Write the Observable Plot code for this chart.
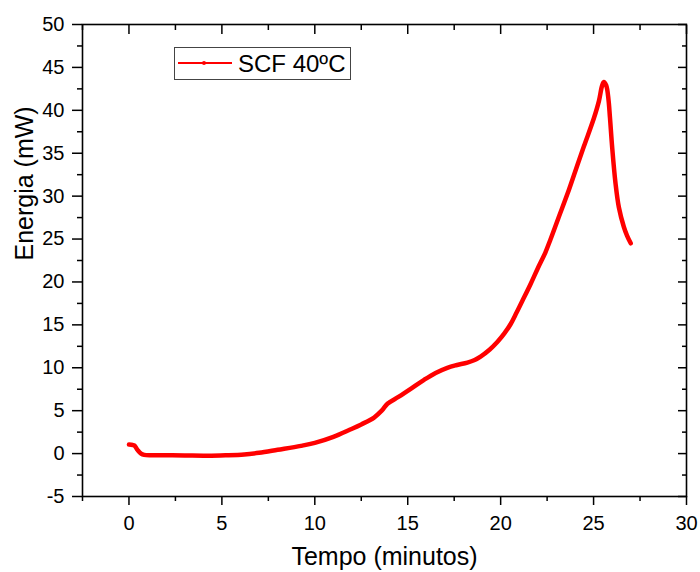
<!DOCTYPE html>
<html>
<head>
<meta charset="utf-8">
<script src="https://cdn.jsdelivr.net/npm/d3@7"></script>
<script src="https://cdn.jsdelivr.net/npm/@observablehq/plot@0.6"></script>
<style>
  html, body { margin: 0; padding: 0; background: #fff; }
  #wrap { position: relative; width: 700px; height: 572px; font-family: "Liberation Sans", Arial, sans-serif; }
  #legend { position: absolute; left: 174px; top: 47px; }
</style>
</head>
<body>
<div id="wrap"></div>
<script>
const seriesName = "SCF 40ºC";
const xLabel = "Tempo (minutos)";
const yLabel = "Energia (mW)";
const tempo = [0, 0.2, 0.3, 0.47, 0.65, 0.82, 1.2, 2.08, 3.0, 4.23, 5.2, 6.2, 7.0, 8.0, 9.25, 10.0, 11.0, 11.9, 12.5, 13.19, 13.6, 13.91, 14.5, 15.2, 15.88, 16.5, 17.13, 17.6, 18.21, 18.6, 18.92, 19.4, 19.82, 20.2, 20.54, 20.85, 21.17, 21.6, 22.0, 22.4, 22.69, 23.1, 23.6, 24.03, 24.48, 25.02, 25.29, 25.45, 25.55, 25.68, 25.8, 25.88, 26.0, 26.18, 26.36, 26.63, 26.8, 27.0];
const energia = [1.05, 1.0, 0.93, 0.4, 0.0, -0.15, -0.2, -0.2, -0.22, -0.25, -0.2, -0.1, 0.1, 0.45, 0.9, 1.25, 1.95, 2.8, 3.4, 4.2, 5.0, 5.8, 6.6, 7.6, 8.6, 9.4, 10.0, 10.3, 10.6, 10.9, 11.3, 12.1, 13.0, 14.0, 15.1, 16.4, 17.8, 19.7, 21.6, 23.4, 25.0, 27.4, 30.3, 33.0, 35.8, 39.1, 41.1, 42.8, 43.3, 42.9, 41.3, 39.2, 35.7, 31.5, 28.7, 26.4, 25.4, 24.5];
const xMajor = [0, 5, 10, 15, 20, 25, 30];
const xMinor = [-2.5, 2.5, 7.5, 12.5, 17.5, 22.5, 27.5];
const yMajor = [-5, 0, 5, 10, 15, 20, 25, 30, 35, 40, 45, 50];
const yMinor = [-2.5, 2.5, 7.5, 12.5, 17.5, 22.5, 27.5, 32.5, 37.5, 42.5, 47.5];

const data = tempo.map((t, i) => ({t, e: energia[i]}));
const blank = () => "";
const fmt = d => String(d);

const chart = Plot.plot({
  width: 700,
  height: 572,
  marginLeft: 82,
  marginRight: 14,
  marginTop: 24,
  marginBottom: 76,
  style: {fontFamily: "'Liberation Sans', Arial, sans-serif", fontSize: "20px", background: "#fff", color: "#000"},
  x: {domain: [-2.5, 30]},
  y: {domain: [-5, 50]},
  marks: [
    Plot.frame({stroke: "#000", strokeWidth: 1.6}),
    Plot.axisX({anchor: "bottom", ticks: xMajor, tickSize: 9, tickPadding: 10, fontSize: 20, tickFormat: fmt, label: null, strokeWidth: 1.5}),
    Plot.axisX({anchor: "bottom", ticks: xMinor, tickSize: 5, tickFormat: blank, label: null, strokeWidth: 1.5}),
    Plot.axisX({anchor: "top", ticks: xMajor, tickSize: -9, tickFormat: blank, label: null, strokeWidth: 1.5}),
    Plot.axisX({anchor: "top", ticks: xMinor, tickSize: -5, tickFormat: blank, label: null, strokeWidth: 1.5}),
    Plot.axisY({anchor: "left", ticks: yMajor, tickSize: 10, tickPadding: 8, fontSize: 20, tickFormat: fmt, label: null, strokeWidth: 1.5}),
    Plot.axisY({anchor: "left", ticks: yMinor, tickSize: 5, tickFormat: blank, label: null, strokeWidth: 1.5}),
    Plot.axisY({anchor: "right", ticks: yMajor, tickSize: -9, tickFormat: blank, label: null, strokeWidth: 1.5}),
    Plot.axisY({anchor: "right", ticks: yMinor, tickSize: -5, tickFormat: blank, label: null, strokeWidth: 1.5}),
    Plot.text([xLabel], {frameAnchor: "bottom", dy: 60.5, text: d => d, fontSize: 25, lineAnchor: "middle", fill: "#000"}),
    Plot.text([yLabel], {frameAnchor: "left", dx: -58, rotate: -90, text: d => d, fontSize: 25, lineAnchor: "middle", fill: "#000"}),
    Plot.line(data, {x: "t", y: "e", stroke: "#ff0000", strokeWidth: 4.5, curve: "catmull-rom"})
  ]
});

const wrap = document.getElementById("wrap");
wrap.appendChild(chart);

const legend = document.createElement("div");
legend.id = "legend";
legend.innerHTML = `<svg width="177" height="33" style="font-family:'Liberation Sans', Arial, sans-serif">
  <rect x="0.5" y="0.5" width="176" height="32" fill="#fff" stroke="#444" stroke-width="1"/>
  <line x1="4" y1="16" x2="58" y2="16" stroke="#ff0000" stroke-width="2"/>
  <circle cx="30" cy="16" r="2" fill="#ff0000"/>
  <text x="64" y="25" font-size="24" fill="#000">${seriesName}</text>
</svg>`;
wrap.appendChild(legend);
</script>
</body>
</html>
